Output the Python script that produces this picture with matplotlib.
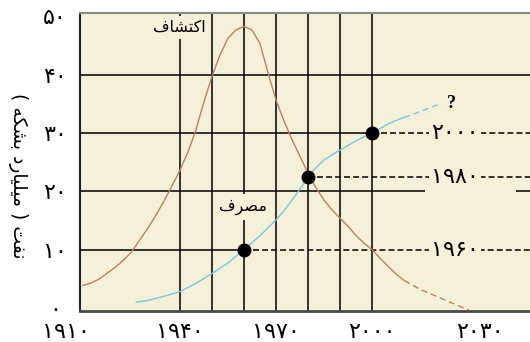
import matplotlib
matplotlib.use("Agg")
import matplotlib.pyplot as plt
import matplotlib.transforms as mtransforms

plt.rcParams['font.family'] = ['DejaVu Sans']
plt.rcParams['lines.scale_dashes'] = False

# ---------------- data ----------------
discovery_years = [1910, 1912.5, 1915, 1917.5, 1920, 1922.5, 1925, 1927.5, 1930, 1932.5,
                   1935, 1937.5, 1940, 1942.5, 1945, 1947.5, 1950, 1952.5, 1955, 1957.5,
                   1960, 1962.5, 1965, 1967.5, 1970, 1972.5, 1975, 1977.5, 1980, 1982.5,
                   1985, 1987.5, 1990, 1992.5, 1995, 1997.5, 2000, 2002.5, 2005, 2007.5,
                   2010, 2015, 2020, 2025, 2030]
discovery_values = [3.9, 4.3, 5.0, 6.0, 7.0, 8.2, 9.6, 11.6, 13.6, 15.8,
                    18.2, 20.8, 23.5, 26.6, 30.4, 35.2, 39.6, 43.3, 46.2, 47.7,
                    48.3, 47.7, 45.4, 40.4, 35.7, 32.1, 28.9, 26.0, 23.1, 20.6,
                    18.5, 16.8, 15.4, 14.0, 12.4, 11.1, 10.0, 8.5, 7.1, 5.8,
                    4.7, 3.2, 2.0, 0.8, -0.3]

consumption_years = [1926.5, 1930, 1935, 1940, 1945, 1950, 1955, 1960, 1965, 1970,
                     1972.5, 1975, 1977.5, 1980, 1982.5, 1985, 1987.5, 1990, 1992.5, 1995,
                     1997.5, 2000, 2002.5, 2005, 2007.5, 2010, 2015, 2021.5]
consumption_values = [1.0, 1.3, 2.0, 2.8, 4.2, 5.9, 7.7, 10.0, 12.4, 15.1,
                      16.7, 18.5, 20.4, 22.5, 24.1, 25.4, 26.3, 27.1, 27.9, 28.7,
                      29.4, 30.0, 30.8, 31.6, 32.2, 32.7, 33.7, 35.1]

projection_start = 2010

marker_years = [1960, 1980, 2000]
marker_values = [10, 22.5, 30]
marker_labels = ['۱۹۶۰', '۱۹۸۰', '۲۰۰۰']

grid_years = [1940, 1950, 1960, 1970, 1980, 1990, 2000]

x_ticks = [1910, 1940, 1970, 2000, 2030]
x_tick_labels = ['۱۹۱۰', '۱۹۴۰', '۱۹۷۰', '۲۰۰۰', '۲۰۳۰']
y_ticks = [0, 10, 20, 30, 40, 50]
y_tick_labels = ['۰', '۱۰', '۲۰', '۳۰', '۴۰', '۵۰']

label_discovery = 'اکتشاف'
label_consumption = 'مصرف'
label_y = 'نفت ( میلیارد بشکه )'

# ------------- minimal Arabic/Persian shaping (matplotlib has no shaping) -------------
FORMS = {
    'ا': ('\uFE8D', '\uFE8E', None, None),
    'ب': ('\uFE8F', '\uFE90', '\uFE91', '\uFE92'),
    'ت': ('\uFE95', '\uFE96', '\uFE97', '\uFE98'),
    'د': ('\uFEA9', '\uFEAA', None, None),
    'ر': ('\uFEAD', '\uFEAE', None, None),
    'ش': ('\uFEB5', '\uFEB6', '\uFEB7', '\uFEB8'),
    'ص': ('\uFEB9', '\uFEBA', '\uFEBB', '\uFEBC'),
    'ف': ('\uFED1', '\uFED2', '\uFED3', '\uFED4'),
    'ل': ('\uFEDD', '\uFEDE', '\uFEDF', '\uFEE0'),
    'م': ('\uFEE1', '\uFEE2', '\uFEE3', '\uFEE4'),
    'ن': ('\uFEE5', '\uFEE6', '\uFEE7', '\uFEE8'),
    'ه': ('\uFEE9', '\uFEEA', '\uFEEB', '\uFEEC'),
    'ک': ('\uFB8E', '\uFB8F', '\uFB90', '\uFB91'),
    'ی': ('\uFBFC', '\uFBFD', '\uFBFE', '\uFBFF'),
}


def rtl(text):
    out = []
    n = len(text)
    for i, ch in enumerate(text):
        f = FORMS.get(ch)
        if f is None:
            out.append(ch)
            continue
        prev = text[i - 1] if i > 0 else ''
        nxt = text[i + 1] if i < n - 1 else ''
        jp = prev in FORMS and FORMS[prev][2] is not None
        jn = f[2] is not None and nxt in FORMS
        if jp and jn:
            out.append(f[3])
        elif jp:
            out.append(f[1])
        elif jn:
            out.append(f[2])
        else:
            out.append(f[0])
    mirror = {'(': ')', ')': '('}
    return ''.join(mirror.get(c, c) for c in reversed(out))


# ---------------- style ----------------
BG = '#F4F1D8'
BROWN = '#C27C64'
BLUE = '#7BC4DD'
GRID = '#111111'
GLW = 1.2
NUMSIZE = 16

fig = plt.figure(figsize=(5.3, 3.42), dpi=100)
fig.patch.set_facecolor('white')
ax = fig.add_axes([80 / 530, 31 / 342, 450 / 530, 298 / 342])
ax.set_facecolor(BG)
XMIN, XMAX = 1909, 2049.1
ax.set_xlim(XMIN, XMAX)
ax.set_ylim(-0.5, 50.6)

# vertical grid lines
for yr in grid_years:
    ax.axvline(yr, color=GRID, lw=GLW, zorder=1)

# horizontal grid lines
ax.axhline(40, color=GRID, lw=GLW, zorder=3)
ax.plot([XMIN, 2016.3], [20, 20], color=GRID, lw=GLW, zorder=3, solid_capstyle='butt')
ax.plot([2044.6, XMAX], [20, 20], color=GRID, lw=GLW, zorder=3, solid_capstyle='butt')

for yr, v, lab in zip(marker_years, marker_values, marker_labels):
    if v in y_ticks:
        ax.plot([XMIN, yr], [v, v], color=GRID, lw=GLW, zorder=3, solid_capstyle='butt')
    ax.plot([yr, XMAX], [v, v], color=GRID, lw=GLW, dashes=(4.3, 2.2), zorder=3)
    ax.text(2025.7, v, lab, ha='center', va='center', fontsize=NUMSIZE,
            bbox=dict(facecolor=BG, edgecolor='none', pad=1.5), zorder=4)

# curves (solid history, dashed projection)
def split(xs, ys, cut):
    a = [(x, y) for x, y in zip(xs, ys) if x <= cut]
    b = [(x, y) for x, y in zip(xs, ys) if x >= cut]
    return list(zip(*a)), list(zip(*b))

(dx1, dy1), (dx2, dy2) = split(discovery_years, discovery_values, projection_start)
ax.plot(dx1, dy1, color=BROWN, lw=1.0, zorder=5, solid_joinstyle='round')
ax.plot(dx2, dy2, color=BROWN, lw=1.0, dashes=(4.3, 2.8), zorder=5)

(cx1, cy1), (cx2, cy2) = split(consumption_years, consumption_values, projection_start)
ax.plot(cx1, cy1, color=BLUE, lw=1.0, zorder=5, solid_joinstyle='round')
ax.plot(cx2, cy2, color=BLUE, lw=1.0, dashes=(4.3, 2.8), zorder=5)

ax.plot(marker_years, marker_values, 'o', color='black', ms=9, zorder=6)

# curve labels with background boxes
ax.text(1940, 48.1, rtl(label_discovery), ha='center', va='center', fontsize=11.5,
        bbox=dict(facecolor=BG, edgecolor='none', pad=3), zorder=2)
ax.text(1959.6, 17.3, rtl(label_consumption), ha='center', va='center', fontsize=11.5,
        bbox=dict(facecolor=BG, edgecolor='none', pad=4), zorder=2)
ax.text(2024.5, 35.0, '?', ha='center', va='center', fontsize=13,
        family='Liberation Serif', fontweight='bold', zorder=6)

# axes / ticks
ax.set_xticks(x_ticks)
ax.set_xticklabels(x_tick_labels, fontsize=NUMSIZE)
ax.set_yticks(y_ticks)
ax.set_yticklabels(y_tick_labels, fontsize=NUMSIZE)
ax.tick_params(axis='both', length=0)
ax.tick_params(axis='x', pad=8)
ax.tick_params(axis='y', pad=18)
for lab in ax.get_yticklabels():
    lab.set_horizontalalignment('center')
xl = ax.get_xticklabels()
xl[0].set_transform(xl[0].get_transform() + mtransforms.ScaledTranslation(-0.17, 0, fig.dpi_scale_trans))
xl[-1].set_transform(xl[-1].get_transform() + mtransforms.ScaledTranslation(0.11, 0, fig.dpi_scale_trans))

ax.spines['right'].set_visible(False)
ax.spines['left'].set_color('#222222')
ax.spines['left'].set_linewidth(1.5)
ax.spines['bottom'].set_color('#4a4a4a')
ax.spines['bottom'].set_linewidth(2.0)
ax.spines['top'].set_color('#8a8a8a')
ax.spines['top'].set_linewidth(1.5)

fig.text(18 / 530, 1 - 176 / 342, rtl(label_y), rotation=270, ha='center', va='center',
         fontsize=13.5)

fig.savefig('out.png', dpi=100, facecolor='white')
